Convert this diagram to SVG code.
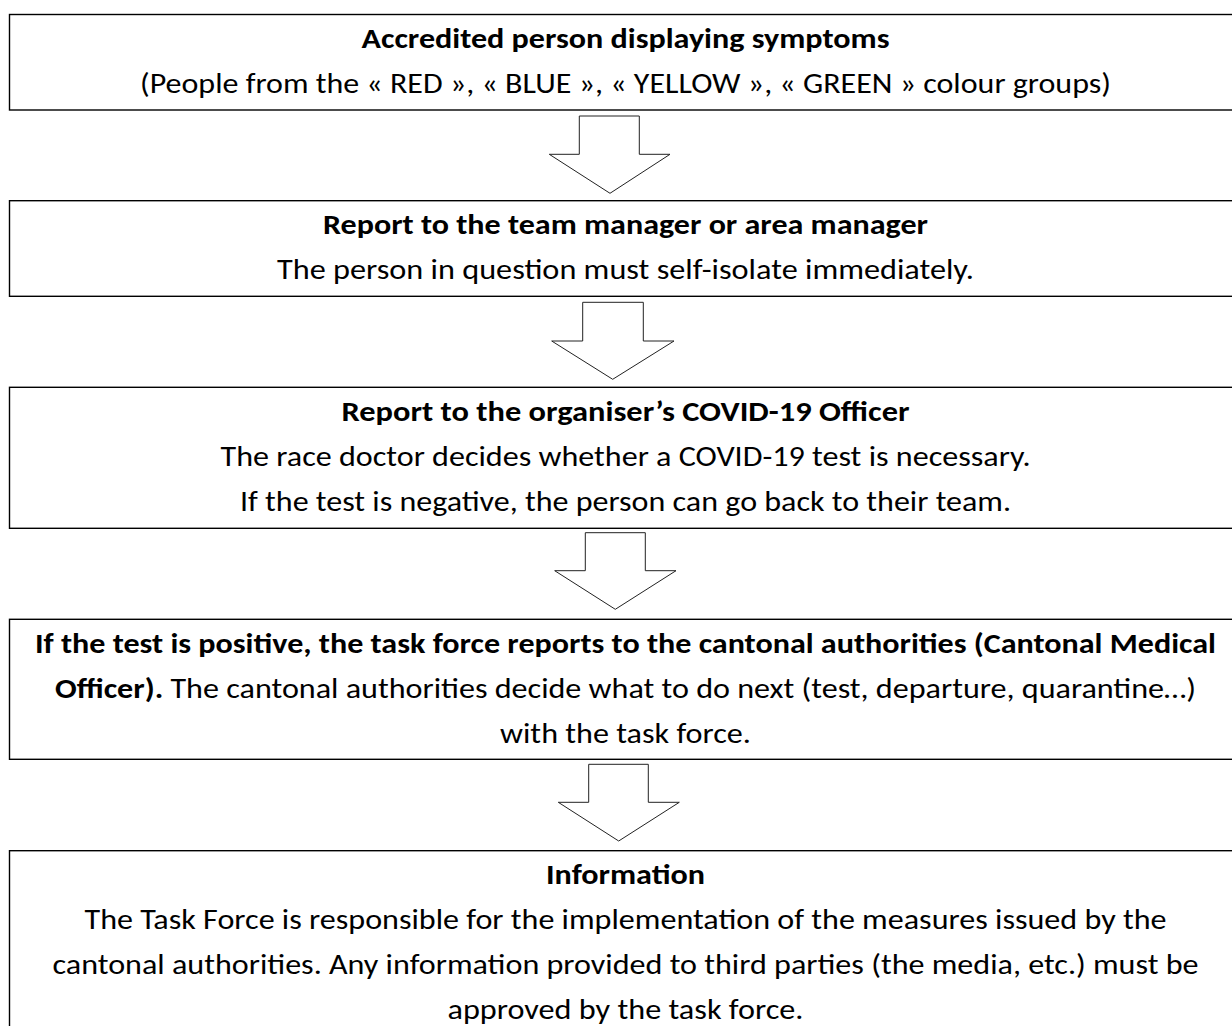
<svg xmlns="http://www.w3.org/2000/svg" width="1232" height="1026" viewBox="0 0 1232 1026">
<style>
.box{fill:#ffffff;stroke:#000000;stroke-width:1.4}
.arr{fill:#ffffff;stroke:#222222;stroke-width:1;stroke-linejoin:miter}
text{font-family:Carlito,Lato,"Liberation Sans",sans-serif;font-size:29px;fill:#000000;text-anchor:middle}
.b{font-weight:bold}
</style>
<rect width="1232" height="1026" fill="#ffffff"/>
<g id="connectors">
<path class="arr" d="M579.3,116 H639.3 V154.3 H670 L610,193.3 L549.3,154.3 H579.3 Z"/>
<path class="arr" d="M582.7,302.3 H643.3 V341 H674 L612.7,379.3 L551.7,341 H582.7 Z"/>
<path class="arr" d="M585.3,532.7 H645.3 V570.7 H676 L615.3,609.3 L554.7,570.7 H585.3 Z"/>
<path class="arr" d="M588.7,764.3 H648.3 V802.3 H679.3 L618.7,841 L558.3,802.3 H588.7 Z"/>
</g>
<g id="node1">
<rect class="box" x="9.5" y="14.5" width="1240" height="95.5"/>
<text class="b" x="625.5" y="47.8" textLength="528" lengthAdjust="spacingAndGlyphs">Accredited person displaying symptoms</text>
<text x="625.5" y="93" textLength="971" lengthAdjust="spacingAndGlyphs">(People from the « RED », « BLUE », « YELLOW », « GREEN » colour groups)</text>
</g>
<g id="node2">
<rect class="box" x="9.5" y="200.7" width="1240" height="95.6"/>
<text class="b" x="625.5" y="234.2" textLength="605" lengthAdjust="spacingAndGlyphs">Report to the team manager or area manager</text>
<text x="625.5" y="279.2" textLength="697" lengthAdjust="spacingAndGlyphs">The person in question must self-isolate immediately.</text>
</g>
<g id="node3">
<rect class="box" x="9.5" y="387.3" width="1240" height="141"/>
<text class="b" x="625.5" y="420.8" textLength="568" lengthAdjust="spacingAndGlyphs">Report to the organiser’s COVID-19 Officer</text>
<text x="625.5" y="465.5" textLength="810" lengthAdjust="spacingAndGlyphs">The race doctor decides whether a COVID-19 test is necessary.</text>
<text x="625.5" y="510.5" textLength="771" lengthAdjust="spacingAndGlyphs">If the test is negative, the person can go back to their team.</text>
</g>
<g id="node4">
<rect class="box" x="9.5" y="619.3" width="1240" height="140"/>
<text class="b" x="625.5" y="652.8" textLength="1181" lengthAdjust="spacingAndGlyphs">If the test is positive, the task force reports to the cantonal authorities (Cantonal Medical</text>
<text x="625.5" y="697.8" textLength="1141" lengthAdjust="spacingAndGlyphs"><tspan class="b">Officer).</tspan> The cantonal authorities decide what to do next (test, departure, quarantine…)</text>
<text x="625.5" y="742.8" textLength="251" lengthAdjust="spacingAndGlyphs">with the task force.</text>
</g>
<g id="node5">
<rect class="box" x="9.5" y="850.7" width="1240" height="200"/>
<text class="b" x="625.5" y="884.2" textLength="159" lengthAdjust="spacingAndGlyphs">Information</text>
<text x="625.5" y="929.2" textLength="1082" lengthAdjust="spacingAndGlyphs">The Task Force is responsible for the implementation of the measures issued by the</text>
<text x="625.5" y="974.2" textLength="1146" lengthAdjust="spacingAndGlyphs">cantonal authorities. Any information provided to third parties (the media, etc.) must be</text>
<text x="625.5" y="1019.2" textLength="356" lengthAdjust="spacingAndGlyphs">approved by the task force.</text>
</g>
</svg>
